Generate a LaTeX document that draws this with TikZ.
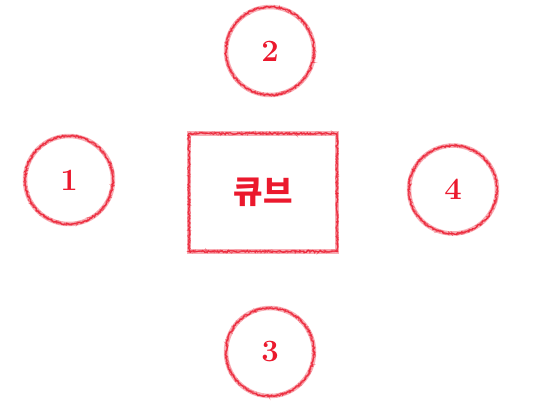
\documentclass[tikz,border=0pt]{standalone}
\usepackage{fontspec}
\newfontfamily\krfont{Noto Sans CJK KR}
\usetikzlibrary{decorations.pathmorphing}
\definecolor{pred}{RGB}{235,25,45}
\tikzset{
  pencil/.style={draw=pred!35, line width=4.5pt,
    postaction={draw=pred, opacity=0.75, line width=1.4pt, sharp corners, decorate,
      decoration={random steps, segment length=1.5pt, amplitude=0.9pt}},
    postaction={draw=pred, opacity=0.55, line width=0.8pt, sharp corners, decorate,
      decoration={random steps, segment length=1.2pt, amplitude=1.6pt}}},
  numnode/.style={circle, pencil, minimum size=88pt, inner sep=0pt,
    text=pred, font=\fontsize{31}{33}\selectfont\bfseries},
  cubebox/.style={rectangle, pencil, minimum width=148pt,
    minimum height=118pt, inner sep=0pt, text=pred,
    font=\krfont\fontsize{32}{34}\selectfont\bfseries}
}
\begin{document}
\begin{tikzpicture}[x=1pt,y=-1pt]
\useasboundingbox (0,0) rectangle (535,418);
\node[numnode] (n1) at (69,180) {1};
\node[numnode] (n2) at (270,51) {2};
\node[numnode] (n3) at (270,352) {3};
\node[numnode] (n4) at (453,189.5) {4};
\node[cubebox] (cube) at (263,192.5) {큐브};
\end{tikzpicture}
\end{document}
